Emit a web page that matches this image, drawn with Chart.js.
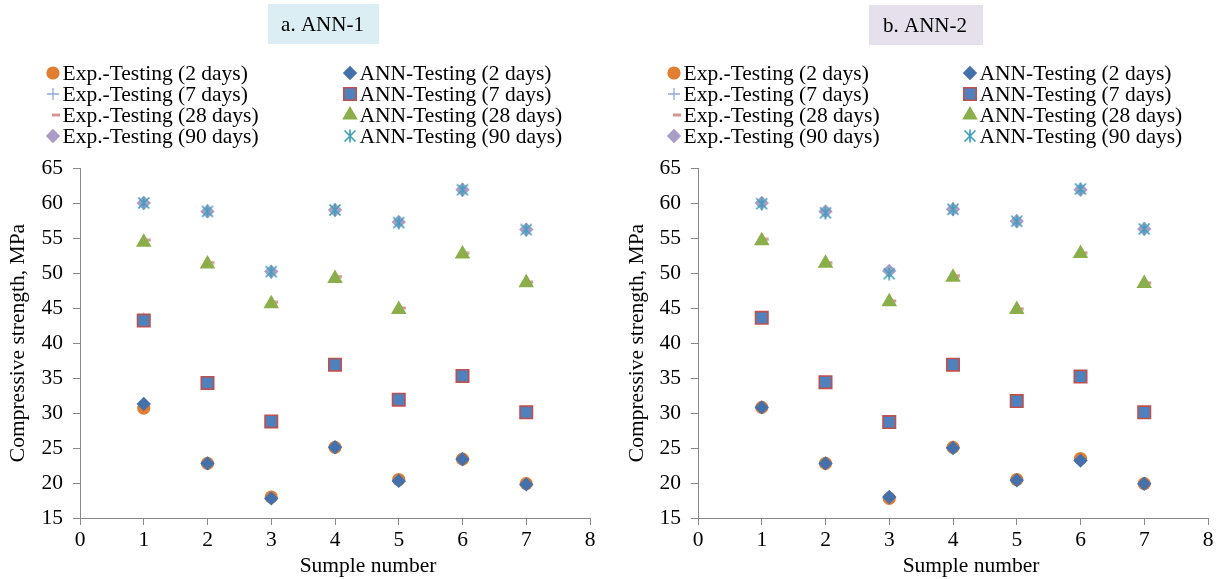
<!DOCTYPE html>
<html>
<head>
<meta charset="utf-8">
<script src="https://cdn.jsdelivr.net/npm/chart.js"></script>
<style>
  html, body { margin: 0; padding: 0; background: #fff; }
  #wrap { position: relative; width: 1221px; height: 579px; }
  .panel { position: absolute; top: 0; height: 579px; }
</style>
</head>
<body>
<div id="wrap">
  <div class="panel" style="left:0;width:610px"><canvas id="chartA" width="610" height="579"></canvas></div>
  <div class="panel" style="left:610px;width:611px"><canvas id="chartB" width="611" height="579"></canvas></div>
</div>
<script>
// sample numbers on the x axis and the axis ranges
const samples = [1, 2, 3, 4, 5, 6, 7]
const xTicks = [0, 1, 2, 3, 4, 5, 6, 7, 8]
const yTicks = [15, 20, 25, 30, 35, 40, 45, 50, 55, 60, 65]

const seriesNames = [
    'Exp.-Testing (2 days)', 'ANN-Testing (2 days)',
    'Exp.-Testing (7 days)', 'ANN-Testing (7 days)',
    'Exp.-Testing (28 days)', 'ANN-Testing (28 days)',
    'Exp.-Testing (90 days)', 'ANN-Testing (90 days)'
]

// a. ANN-1
const ann1Exp2 = [30.7, 22.8, 18.0, 25.1, 20.5, 23.4, 19.9]
const ann1Ann2 = [31.3, 22.8, 17.8, 25.1, 20.3, 23.4, 19.8]
const ann1Exp7 = [43.5, 34.3, 28.8, 37.0, 31.9, 35.3, 30.1]
const ann1Ann7 = [43.2, 34.3, 28.8, 36.9, 31.9, 35.3, 30.1]
const ann1Exp28 = [54.7, 51.5, 45.8, 49.5, 45.0, 52.8, 48.7]
const ann1Ann28 = [54.4, 51.3, 45.6, 49.2, 44.8, 52.7, 48.6]
const ann1Exp90 = [60.0, 58.8, 50.2, 59.0, 57.3, 61.9, 56.2]
const ann1Ann90 = [60.0, 58.8, 50.2, 59.0, 57.2, 61.9, 56.2]

// b. ANN-2
const ann2Exp2 = [30.8, 22.8, 17.8, 25.1, 20.5, 23.5, 19.9]
const ann2Ann2 = [30.8, 22.8, 18.0, 25.0, 20.4, 23.2, 19.9]
const ann2Exp7 = [43.6, 34.4, 28.7, 37.0, 31.8, 35.2, 30.1]
const ann2Ann7 = [43.6, 34.4, 28.7, 36.9, 31.7, 35.2, 30.1]
const ann2Exp28 = [54.8, 51.5, 46.0, 49.6, 44.9, 52.9, 48.6]
const ann2Ann28 = [54.6, 51.4, 45.9, 49.4, 44.8, 52.8, 48.5]
const ann2Exp90 = [60.0, 58.8, 50.3, 59.1, 57.4, 61.9, 56.3]
const ann2Ann90 = [59.9, 58.6, 49.9, 59.1, 57.4, 62.0, 56.3]

const FONT = '"Liberation Serif", "Times New Roman", serif'
const AXIS_GREY = '#898989'

// small marker images for the shapes Chart.js does not have
function makeAsterisk() {
    const c = document.createElement('canvas')
    c.width = 14
    c.height = 14
    const g = c.getContext('2d')
    g.strokeStyle = '#3FA0BE'
    g.lineWidth = 1.7
    g.beginPath()
    g.moveTo(1.5, 1.5); g.lineTo(12.5, 12.5)
    g.moveTo(12.5, 1.5); g.lineTo(1.5, 12.5)
    g.moveTo(7, 0.5); g.lineTo(7, 13.5)
    g.stroke()
    return c
}

function makeDash() {
    // the dash sits a little right of the point, like the office marker
    const c = document.createElement('canvas')
    c.width = 16
    c.height = 4
    const g = c.getContext('2d')
    g.fillStyle = '#D99694'
    g.fillRect(7, 0.5, 8, 3)
    return c
}

const asterisk = makeAsterisk()
const dash = makeDash()

const markerStyles = [
    { pointStyle: 'circle', radius: 6.6, bg: '#E27E32', border: '#E27E32', bw: 0, order: 2 },
    { pointStyle: 'rectRot', radius: 7.2, bg: '#4470AB', border: '#4470AB', bw: 0, order: 1 },
    { pointStyle: 'cross', radius: 6, bg: '#8EABD8', border: '#8EABD8', bw: 1.3, order: 2 },
    { pointStyle: 'rect', radius: 8.8, bg: '#4F81BD', border: '#C0504D', bw: 1.6, order: 1 },
    { pointStyle: dash, radius: 4, bg: '#D99694', border: '#D99694', bw: 0, order: 2 },
    { pointStyle: 'triangle', radius: 9, bg: '#8AAE4A', border: '#8AAE4A', bw: 0, order: 1 },
    { pointStyle: 'rectRot', radius: 7.2, bg: '#AB9CC6', border: '#AB9CC6', bw: 0, order: 2 },
    { pointStyle: asterisk, radius: 7, bg: '#3FA0BE', border: '#3FA0BE', bw: 0, order: 1 }
]

// title box, legend and axis titles are drawn on top of the chart
const decorPlugin = {
    id: 'decor',
    afterDraw(chart, args, opts) {
        const ctx = chart.ctx
        const area = chart.chartArea
        ctx.save()

        ctx.fillStyle = opts.boxColor
        ctx.fillRect(opts.box[0], opts.box[1], opts.box[2], opts.box[3])
        ctx.fillStyle = '#000'
        ctx.font = '21px ' + FONT
        ctx.textAlign = 'center'
        ctx.textBaseline = 'middle'
        ctx.fillText(opts.title, opts.box[0] + opts.box[2] / 2 - 1, opts.box[1] + opts.box[3] / 2 + 1)

        ctx.font = '21.5px ' + FONT
        ctx.textAlign = 'left'
        seriesNames.forEach((name, i) => {
            const col = i % 2
            const row = Math.floor(i / 2)
            const mx = opts.legendX[col]
            const my = opts.legendY + row * 21
            const st = markerStyles[i]
            ctx.fillStyle = st.bg
            ctx.strokeStyle = st.border
            ctx.lineWidth = st.bw
            Chart.helpers.drawPoint(ctx, { pointStyle: st.pointStyle, radius: st.radius, rotation: 0, borderWidth: st.bw }, mx, my)
            ctx.fillStyle = '#000'
            ctx.fillText(name, mx + 9.5, my + 1)
        })

        ctx.textAlign = 'center'
        ctx.fillText('Sumple number', opts.xTitleX, 566)
        ctx.translate(opts.yTitleX, (area.top + area.bottom) / 2)
        ctx.rotate(-Math.PI / 2)
        ctx.fillText('Compressive strength, MPa', 0, 0)
        ctx.restore()
    }
}

function makeChart(canvas, series, panel) {
    const datasets = series.map((vals, i) => {
        const st = markerStyles[i]
        return {
            label: seriesNames[i],
            data: samples.map((x, k) => ({ x: x, y: vals[k] })),
            showLine: false,
            pointStyle: st.pointStyle,
            pointRadius: st.radius,
            pointBackgroundColor: st.bg,
            pointBorderColor: st.border,
            pointBorderWidth: st.bw,
            order: st.order
        }
    })

    return new Chart(canvas, {
        type: 'scatter',
        data: { datasets: datasets },
        plugins: [decorPlugin],
        options: {
            responsive: false,
            animation: false,
            events: [],
            layout: { padding: { top: 168, right: panel.padRight, bottom: 0, left: 0 } },
            plugins: {
                legend: { display: false },
                tooltip: { enabled: false },
                decor: panel
            },
            scales: {
                x: {
                    type: 'linear',
                    min: xTicks[0],
                    max: xTicks[xTicks.length - 1],
                    afterBuildTicks: (s) => { s.ticks = xTicks.map(v => ({ value: v })) },
                    afterFit: (s) => { s.height = 61 },
                    ticks: { color: '#000', font: { family: FONT, size: 21.5 }, padding: 2, maxRotation: 0 },
                    grid: { drawOnChartArea: false, drawTicks: true, tickLength: 7, color: AXIS_GREY },
                    border: { display: true, color: AXIS_GREY, width: 1 }
                },
                y: {
                    type: 'linear',
                    min: yTicks[0],
                    max: yTicks[yTicks.length - 1],
                    afterBuildTicks: (s) => { s.ticks = yTicks.map(v => ({ value: v })) },
                    afterFit: (s) => { s.width = panel.axisX },
                    ticks: { color: '#000', font: { family: FONT, size: 21.5 }, padding: 10 },
                    grid: { drawOnChartArea: false, drawTicks: true, tickLength: 7, color: AXIS_GREY },
                    border: { display: true, color: AXIS_GREY, width: 1 }
                }
            }
        }
    })
}

makeChart(document.getElementById('chartA'),
    [ann1Exp2, ann1Ann2, ann1Exp7, ann1Ann7, ann1Exp28, ann1Ann28, ann1Exp90, ann1Ann90],
    {
        title: 'a. ANN-1', boxColor: '#DAEEF3', box: [268, 4, 111, 40],
        legendX: [53, 350], legendY: 73,
        axisX: 80, padRight: 20, xTitleX: 368, yTitleX: 18
    })

makeChart(document.getElementById('chartB'),
    [ann2Exp2, ann2Ann2, ann2Exp7, ann2Ann7, ann2Exp28, ann2Ann28, ann2Exp90, ann2Ann90],
    {
        title: 'b. ANN-2', boxColor: '#E5E0EC', box: [259, 5, 114, 40],
        legendX: [64, 360], legendY: 73,
        axisX: 88, padRight: 13, xTitleX: 361, yTitleX: 27
    })
</script>
</body>
</html>
